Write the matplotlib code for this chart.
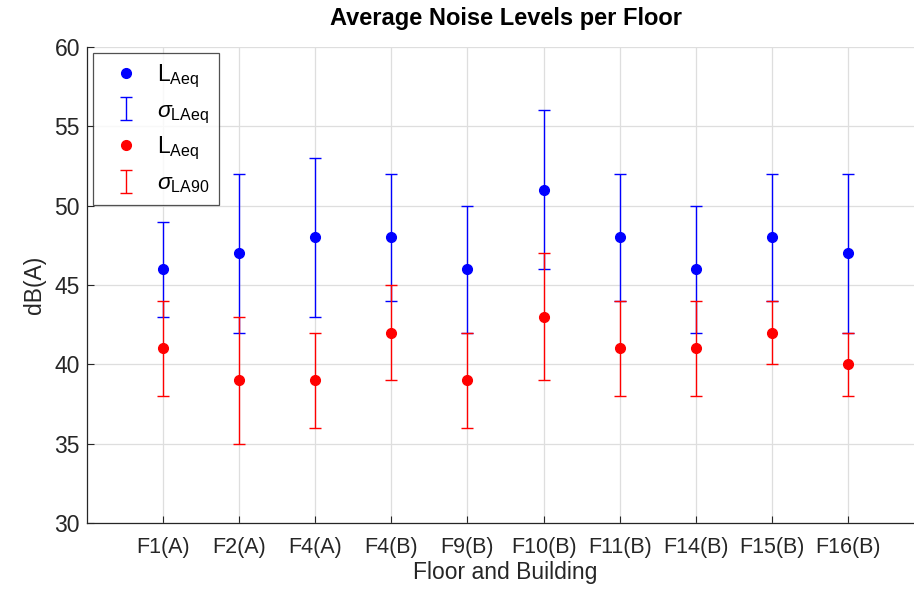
import matplotlib
matplotlib.use('Agg')
import matplotlib.pyplot as plt
import numpy as np

# data
floors = ['F1(A)', 'F2(A)', 'F4(A)', 'F4(B)', 'F9(B)',
          'F10(B)', 'F11(B)', 'F14(B)', 'F15(B)', 'F16(B)']
laeq_mean = [46, 47, 48, 48, 46, 51, 48, 46, 48, 47]
laeq_low = [43, 42, 43, 44, 42, 46, 44, 42, 44, 42]
laeq_high = [49, 52, 53, 52, 50, 56, 52, 50, 52, 52]
la90_mean = [41, 39, 39, 42, 39, 43, 41, 41, 42, 40]
la90_low = [38, 35, 36, 39, 36, 39, 38, 38, 40, 38]
la90_high = [44, 43, 42, 45, 42, 47, 44, 44, 44, 42]
y_ticks = [30, 35, 40, 45, 50, 55, 60]

plt.rcParams['font.family'] = ['Liberation Sans', 'DejaVu Sans']
plt.rcParams['mathtext.fontset'] = 'custom'
plt.rcParams['mathtext.rm'] = 'Liberation Sans'
plt.rcParams['mathtext.it'] = 'Liberation Sans:italic'

txt = '#262626'
x = np.arange(1, len(floors) + 1)

fig = plt.figure(figsize=(9.14, 5.94), dpi=100)
# axes run past the right edge, like the cropped original
ax = fig.add_axes([0.0952, 0.1195, 0.9158, 0.8014])

lae = np.array(laeq_mean)
l90 = np.array(la90_mean)
err_b = [lae - np.array(laeq_low), np.array(laeq_high) - lae]
err_r = [l90 - np.array(la90_low), np.array(la90_high) - l90]

h1, = ax.plot(x, lae, 'o', color='blue', markersize=7, zorder=3)
h2 = ax.errorbar(x, lae, yerr=err_b, fmt='none', ecolor='blue',
                 elinewidth=1, capsize=4.5, capthick=1, zorder=2)
h3, = ax.plot(x, l90, 'o', color='red', markersize=7, zorder=5)
h4 = ax.errorbar(x, l90, yerr=err_r, fmt='none', ecolor='red',
                 elinewidth=1, capsize=4.5, capthick=1, zorder=4)

ax.set_xlim(0, 11)
ax.set_ylim(30, 60)
ax.set_xticks(x)
ax.set_xticklabels(floors)
ax.set_yticks(y_ticks)
ax.tick_params(axis='x', direction='in', length=5, labelsize=15.5,
               colors=txt, pad=10)
ax.tick_params(axis='y', direction='in', length=5, labelsize=16.5,
               colors=txt, pad=5)

ax.grid(True, color='#dedede', linewidth=0.9)
ax.set_axisbelow(True)
for side in ['top', 'right']:
    ax.spines[side].set_visible(False)
for side in ['left', 'bottom']:
    ax.spines[side].set_color(txt)
    ax.spines[side].set_linewidth(0.9)

ax.set_title('Average Noise Levels per Floor', fontsize=17,
             fontweight='bold', color='black', pad=16)
ax.set_xlabel('Floor and Building', fontsize=16.5, color=txt, labelpad=2)
ax.set_ylabel('dB(A)', fontsize=16.5, color=txt, labelpad=6)

leg = ax.legend([h1, h2, h3, h4],
                [r'L$_{\rm Aeq}$', r'$\sigma_{\rm LAeq}$',
                 r'L$_{\rm Aeq}$', r'$\sigma_{\rm LA90}$'],
                loc='upper left', bbox_to_anchor=(0.007, 0.987),
                borderaxespad=0, fontsize=16.5, frameon=True,
                fancybox=False, handlelength=2.1, handletextpad=0.3,
                labelspacing=0.4, borderpad=0.4)
leg.get_frame().set_edgecolor(txt)
leg.get_frame().set_linewidth(0.9)

fig.savefig('out.png', dpi=100)
